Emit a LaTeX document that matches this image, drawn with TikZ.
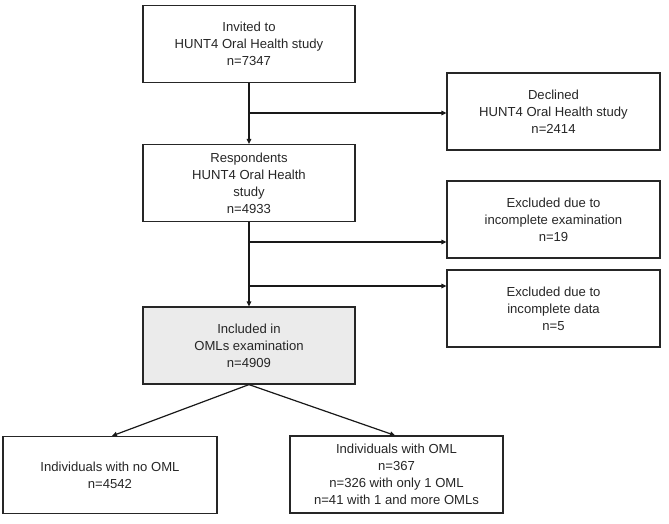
\documentclass[tikz,border=0pt]{standalone}
\usepackage{fontspec}
\setmainfont{Liberation Sans}
\usetikzlibrary{arrows.meta}
\begin{document}
\begin{tikzpicture}[x=1pt,y=-1pt,
  box/.style={draw=black!85, line width=1.2pt, minimum width=#1, minimum height=77pt, inner sep=0pt,
    align=center, font=\fontsize{13.1}{17}\selectfont, text=black!85},
  box/.default=212pt,
  conn/.style={draw=black!90, line width=1.2pt},
  arr/.style={conn, -{Triangle[length=5pt,width=4.5pt]}}]
\useasboundingbox (0,0) rectangle (669,523);
\node[box] (inv) at (249,44) {Invited to\\HUNT4 Oral Health study\\n=7347};
\node[box=213pt] (dec) at (553.5,111.5) {Declined\\HUNT4 Oral Health study\\n=2414};
\node[box] (resp) at (249,183) {Respondents\\HUNT4 Oral Health\\study\\n=4933};
\node[box=213pt] (exc1) at (553.5,219.5) {Excluded due to\\incomplete examination\\n=19};
\node[box=213pt] (exc2) at (553.5,308.5) {Excluded due to\\incomplete data\\n=5};
\node[box, fill=black!8] (inc) at (249,345.5) {Included in\\OMLs examination\\n=4909};
\node[box=214pt] (no) at (110,475) {Individuals with no OML\\n=4542};
\node[box=213pt] (oml) at (396.5,474.5) {Individuals with OML\\n=367\\n=326 with only 1 OML\\n=41 with 1 and more OMLs};
\coordinate (b1) at (249,113);
\coordinate (b2) at (249,242);
\coordinate (b3) at (249,286);
\draw[arr] (inv.south) -- (resp.north);
\draw[arr] (b1) -- (dec.west |- b1);
\draw[arr] (resp.south) -- (inc.north);
\draw[arr] (b2) -- (exc1.west |- b2);
\draw[arr] (b3) -- (exc2.west |- b3);
\draw[arr] (inc.south) -- ([xshift=2pt]no.north);
\draw[arr] (inc.south) -- ([xshift=-1.5pt]oml.north);
\end{tikzpicture}
\end{document}
